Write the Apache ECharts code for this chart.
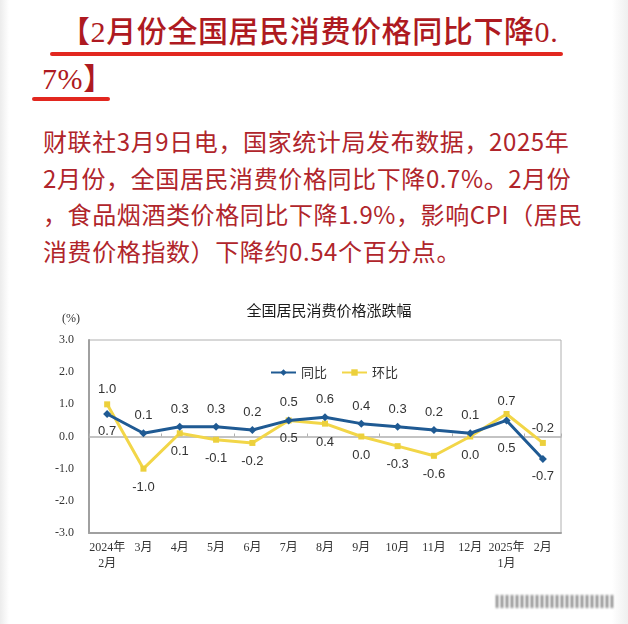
<!DOCTYPE html>
<html>
<head>
<meta charset="utf-8">
<script src="https://cdn.jsdelivr.net/npm/echarts@6/dist/echarts.min.js"></script>
<style>
  html, body { margin: 0; padding: 0; background: #fff; }
  .page { position: relative; width: 628px; height: 624px; overflow: hidden; background: #fff; }
  .edge_l { position: absolute; left: 0; top: 0; width: 9px; height: 624px; background: linear-gradient(to right, #ececec, #fff); }
  .edge_r { position: absolute; right: 0; top: 0; width: 16px; height: 624px; background: linear-gradient(to left, #efefef, #fafafa 70%, #fff); }
  .headline {
    position: absolute; white-space: nowrap; color: #ae1a21;
    font-family: "Liberation Serif", "Noto Sans CJK SC", serif;
    font-size: 30px; line-height: 30px; letter-spacing: 0.6px; font-weight: 500;
  }
  .uline { position: absolute; height: 4px; border-radius: 2px; background: #e2271f; }
  .para {
    position: absolute; left: 43px; top: 123px; white-space: nowrap; color: #b0252b;
    font-family: "Noto Sans CJK SC", sans-serif; font-size: 24px; line-height: 36.7px;
    letter-spacing: 0.6px;
  }
  #cpi_chart { position: absolute; left: 0; top: 280px; width: 628px; height: 310px; }
  .mark { position: absolute; left: 496px; top: 595px; width: 117px; height: 13px; filter: blur(1.2px);
    background: repeating-linear-gradient(to right, #444 0 2px, #f4f4f4 2px 5px); opacity: 0.75; }
</style>
</head>
<body>
<div class="page">
  <div class="edge_l"></div>
  <div class="edge_r"></div>
  <div class="headline" style="left:60px; top:17px;">【2月份全国居民消费价格同比下降0.</div>
  <div class="uline" style="left:50px; top:52px; width:513px;"></div>
  <div class="headline" style="left:42px; top:64px;">7%】</div>
  <div class="uline" style="left:32px; top:97px; width:78px;"></div>
  <div class="para">财联社3月9日电，国家统计局发布数据，2025年<br>2月份，全国居民消费价格同比下降0.7%。2月份<br>，食品烟酒类价格同比下降1.9%，影响CPI（居民<br>消费价格指数）下降约0.54个百分点。</div>
  <div id="cpi_chart"></div>
  <div class="mark"></div>
</div>
<script>
// 数据
const categories = ['2024年\n2月', '3月', '4月', '5月', '6月', '7月', '8月', '9月', '10月', '11月', '12月', '2025年\n1月', '2月'];
const yoyValues = [0.7, 0.1, 0.3, 0.3, 0.2, 0.5, 0.6, 0.4, 0.3, 0.2, 0.1, 0.5, -0.7];   // 同比
const momValues = [1.0, -1.0, 0.1, -0.1, -0.2, 0.5, 0.4, 0.0, -0.3, -0.6, 0.0, 0.7, -0.2]; // 环比
const yMin = -3, yMax = 3, yStep = 1;

// 标签放在点的上方还是下方
const yoyLabelSide = ['bottom', 'top', 'top', 'top', 'top', 'top', 'top', 'top', 'top', 'top', 'top', 'bottom', 'bottom'];
const momLabelSide = ['top', 'bottom', 'bottom', 'bottom', 'bottom', 'bottom', 'bottom', 'bottom', 'bottom', 'bottom', 'bottom', 'top', 'top'];

const labelFont = { fontSize: 13, color: '#333', fontFamily: '"Liberation Sans", Arial, sans-serif' };

function buildData(values, sides, upGap, downGap) {
  return values.map((v, i) => ({
    value: v,
    label: {
      position: sides[i],
      distance: sides[i] === 'top' ? upGap : downGap
    }
  }));
}

const yoyData = buildData(yoyValues, yoyLabelSide, 7, 7);
yoyData[11].label.distance = 18;
const momData = buildData(momValues, momLabelSide, 5, 9);
momData[11].label.distance = 3;

const chart = echarts.init(document.getElementById('cpi_chart'));
chart.setOption({
  animation: false,
  graphic: [
    {
      type: 'text', x: 329, y: 30,
      style: { text: '全国居民消费价格涨跌幅', align: 'center', verticalAlign: 'middle',
        fontSize: 15, fill: '#1a1a1a', fontFamily: '"Noto Sans CJK SC", sans-serif' }
    },
    {
      type: 'text', x: 71, y: 39,
      style: { text: '(%)', align: 'center', verticalAlign: 'middle',
        fontSize: 12, fill: '#333', fontFamily: '"Liberation Serif", serif' }
    }
  ],
  grid: {
    left: 89, top: 60, width: 472, height: 193,
    show: true, borderColor: '#b0b0b0', borderWidth: 1
  },
  legend: {
    left: 265, top: 81,
    itemWidth: 25, itemHeight: 8, itemGap: 14,
    textStyle: { fontSize: 13, color: '#333', fontFamily: '"Noto Sans CJK SC", sans-serif' },
    data: ['同比', '环比']
  },
  xAxis: [
    {
      type: 'category',
      data: categories,
      axisLine: { onZero: false, lineStyle: { color: '#a0a0a0', width: 2 } },
      axisTick: { show: false },
      axisLabel: {
        interval: 0, margin: 7, color: '#333', fontSize: 12, lineHeight: 16,
        fontFamily: '"Liberation Serif", "Noto Sans CJK SC", serif'
      }
    },
    {
      type: 'category',
      position: 'bottom',
      data: categories,
      axisLine: { onZero: true, onZeroAxisIndex: 0, lineStyle: { color: '#b0b0b0', width: 1.5 } },
      axisTick: { show: true, inside: true, length: 3, lineStyle: { color: '#b0b0b0' } },
      axisLabel: { show: false }
    }
  ],
  yAxis: {
    type: 'value',
    min: yMin, max: yMax, interval: yStep,
    axisLine: { show: true, lineStyle: { color: '#a0a0a0', width: 2 } },
    axisTick: { show: false },
    splitLine: { show: false },
    axisLabel: {
      margin: 15, color: '#333', fontSize: 12,
      fontFamily: '"Liberation Serif", serif',
      formatter: v => v.toFixed(1)
    }
  },
  series: [
    {
      name: '环比',
      type: 'line',
      data: momData,
      symbol: 'rect', symbolSize: 6,
      lineStyle: { color: '#f2d648', width: 3 },
      itemStyle: { color: '#ecd03c' },
      label: Object.assign({ show: true, formatter: p => p.value.toFixed(1) }, labelFont),
      z: 2
    },
    {
      name: '同比',
      type: 'line',
      data: yoyData,
      symbol: 'diamond', symbolSize: 8,
      lineStyle: { color: '#1f5a93', width: 3 },
      itemStyle: { color: '#1f5a93' },
      label: Object.assign({ show: true, formatter: p => p.value.toFixed(1) }, labelFont),
      z: 3
    }
  ]
});
</script>
</body>
</html>
